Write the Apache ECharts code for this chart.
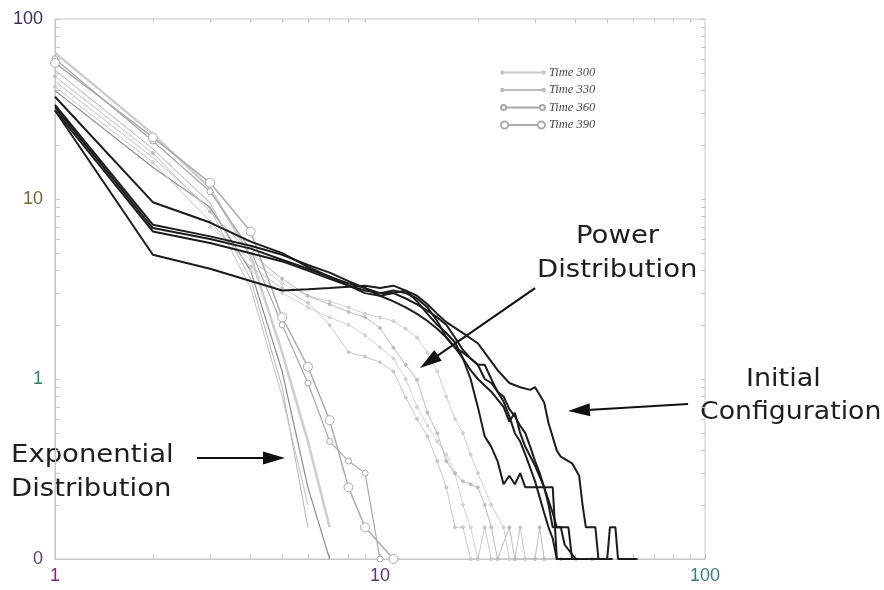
<!DOCTYPE html>
<html>
<head>
<meta charset="utf-8">
<script src="https://cdn.jsdelivr.net/npm/echarts@6/dist/echarts.min.js"></script>
<style>html,body{margin:0;padding:0;background:#fff}#c{width:884px;height:590px}</style>
</head>
<body>
<div id="c"></div>
<script>
// ---- data ----
const blackA = [[1,37],[2,9.6],[3,7.4],[4,5.8],[5,5.0],[6,4.2],[7,3.7],[8,3.3],[9,3.0],[10,2.9],[11,3.0],[12,3.1],[13,2.9],[14,2.6],[15,2.3],[16,2.07],[18,1.8],[20,1.58],[21,1.4],[23,1.12],[25,0.95],[27,0.9],[29,0.87],[30,0.9],[32,0.74],[33,0.57],[35,0.4],[36,0.37],[39,0.34],[41,0.29],[42,0.2],[43,0.15],[46,0.15],[47,0.1],[50,0.1],[51,0.15],[53,0.15],[54,0.1],[62,0.1]];
const blackB = [[1,31],[2,4.9],[3,4.1],[4,3.5],[5,3.1],[6,3.15],[7,3.2],[8,3.25],[9,3.3],[10,3.2],[11,3.3],[12,3.1],[13,2.7],[14,2.3],[15,2.0],[16,1.8],[17,1.6],[18,1.3],[19,1.0],[20,0.7],[21,0.48],[22,0.42],[23,0.35],[24,0.26],[25,0.29],[26,0.26],[27,0.3],[28,0.25],[34,0.25],[35,0.1],[44,0.1]];
const blackC = [[1,33.3],[2,7.2],[3,6.2],[4,5.5],[5,4.9],[6,4.3],[7,3.9],[8,3.5],[9,3.2],[10,2.9],[11,2.7],[12,2.5],[13,2.3],[14,2.1],[15,1.9],[16,1.7],[17,1.5],[18,1.3],[19,1.12],[20,1.0],[22,0.85],[24,0.7],[25,0.58],[26,0.65],[27,0.5],[28,0.42],[30,0.33],[32,0.25],[34,0.18],[35,0.15],[38,0.15],[39,0.1],[46,0.1]];
const blackD = [[1,32.4],[2,6.9],[3,6.0],[4,5.3],[5,4.6],[6,4.1],[7,3.7],[8,3.4],[9,3.2],[10,3.0],[11,3.0],[12,2.8],[13,2.6],[14,2.4],[15,2.2],[16,2.0],[17,1.7],[18,1.45],[19,1.3],[20,1.2],[21,1.2],[22,1.0],[23,0.85],[24,0.8],[25,0.68],[26,0.62],[27,0.55],[28,0.5],[29,0.42],[30,0.35],[31,0.3],[32,0.25],[33,0.2],[34,0.15],[36,0.15],[37,0.12],[40,0.1],[52,0.1]];
const blackE = [[1,31.2],[2,6.6],[3,5.7],[4,5.0],[5,4.5],[6,4.0],[7,3.6],[8,3.3],[9,3.1],[10,3.0],[11,3.1],[12,3.0],[13,2.8],[14,2.5],[15,2.1],[16,1.7],[17,1.5],[18,1.4],[19,1.3],[20,1.2],[21,1.0],[22,0.95],[23,0.85],[24,0.75],[25,0.62],[26,0.5],[27,0.45],[28,0.38],[29,0.32],[30,0.27],[31,0.22],[32,0.18],[33,0.15],[34,0.13],[35,0.1],[44,0.1]];

const time300 = [[1,42],[2,16],[3,7.5],[4,4.2],[5,3.2],[6,2.65],[7,1.99],[8,1.41],[9,1.33],[10,1.24],[11,1.1],[12,0.79],[13,0.6],[14,0.48],[15,0.35],[16,0.25],[17,0.15],[18,0.15],[19,0.1],[20,0.1],[21,0.15],[22,0.1],[26,0.1],[27,0.15],[28,0.1],[36,0.1]];
const time330 = [[1,48],[2,18],[3,8.5],[4,5.0],[5,3.6],[6,2.9],[7,2.6],[8,2.36],[9,2.2],[10,1.92],[11,1.49],[12,1.2],[13,0.99],[14,0.65],[15,0.5],[16,0.35],[17,0.3],[18,0.27],[19,0.26],[20,0.25],[21,0.2],[22,0.15],[23,0.1],[25,0.15],[26,0.1],[30,0.1],[31,0.15],[32,0.1],[45,0.1]];
const time360 = [[1,60],[2,21],[3,11],[4,5.2],[5,2.0],[6,0.95],[7,0.45],[8,0.35],[9,0.3],[10,0.1]];
const time390 = [[1,57],[2,22],[3,12.3],[4,6.6],[5,2.2],[6,1.17],[7,0.59],[8,0.25],[9,0.15],[11,0.1]];

const powerQ1 = [[3,7],[4,4.6],[5,3.4],[6,2.9],[7,2.7],[8,2.5],[9,2.3],[10,2.2],[11,2.1],[12,1.9],[13,1.7],[14,1.4],[15,1.1],[16,0.8],[17,0.6],[18,0.5],[19,0.38],[20,0.3],[22,0.2],[24,0.15],[25,0.1],[40,0.1]];
const powerQ2 = [[4,4.0],[5,3.0],[6,2.5],[7,2.2],[8,2.0],[9,1.75],[10,1.5],[11,1.3],[12,1.0],[13,0.7],[14,0.55],[15,0.45],[16,0.38],[17,0.3],[18,0.2],[19,0.15],[20,0.1]];

const expoG1 = [[1,40],[2,15],[3,9],[4,4.0],[5,1.1],[6,0.25],[7,0.1]];
const expoG2 = [[1,52],[2,19],[3,9.5],[4,3.6],[5,0.9],[6,0.15]];
const expoG3 = [[1,45],[2,17],[3,8.8],[4,3.2],[5,0.8],[6,0.2]];
const expoG4 = [[1,65],[2,23],[3,11.5],[4,4.8],[5,1.4],[6,0.45],[7,0.15]];

const legendNames = ['Time 300','Time 330','Time 360','Time 390'];
const xMinorTicks = [2,3,4,5,6,7,8,9,20,30,40,50,60,70,80,90];
const yMinorTicks = [0.2,0.3,0.4,0.5,0.6,0.7,0.8,0.9,2,3,4,5,6,7,8,9,20,30,40,50,60,70,80,90];
const xMajorTicks = [1,10,100];
const yMajorTicks = [0.1,1,10,100];

// annotation arrows (data coordinates): [start, end]
const arrowExpo = [[2.735,0.364],[4.72,0.364]];
const arrowPower = [[30.0,3.2],[14.15,1.248]];
const arrowInit = [[88.7,0.726],[40.95,0.669]];

// ---- chart ----
const chart = echarts.init(document.getElementById('c'), null, {renderer:'canvas'});

function blackSeries(name, d){
  return {name, type:'line', data:d, symbol:'none', z:6,
    lineStyle:{color:'#1c1c1c', width:2}, emphasis:{disabled:true}};
}
function graySeries(name, d, color, width, symbol, size, filled){
  return {name, type:'line', data:d, symbol: symbol||'none', symbolSize: size||0,
    showSymbol: !!symbol, z:3,
    itemStyle:{color: filled ? color : '#fff', borderColor:color, borderWidth:1},
    lineStyle:{color, width}, emphasis:{disabled:true}};
}
function arrowLine(a){
  return [{coord:a[0], symbol:'none'},{coord:a[1], symbol:'triangle', symbolSize:[13,22]}];
}
// legend icon: short line with a marker at both ends
function legendIcon(r){
  const W = 44, d = 2*r;
  return 'path://M0,0a'+r+','+r+' 0 1,0 '+d+',0a'+r+','+r+' 0 1,0 -'+d+',0' +
         'M'+d+',0L'+(W-d)+',0' +
         'M'+(W-d)+',0a'+r+','+r+' 0 1,0 '+d+',0a'+r+','+r+' 0 1,0 -'+d+',0';
}

const axisLineStyle = {color:'#c6c6c6', width:1};
const lf = 'Liberation Sans';
const yRich = {
  a:{color:'#3b2f5e', fontSize:18, fontFamily:lf},
  b:{color:'#6e6634', fontSize:18, fontFamily:lf},
  c:{color:'#2f7a6a', fontSize:18, fontFamily:lf},
  d:{color:'#5a4470', fontSize:18, fontFamily:lf}
};
const xRich = {
  a:{color:'#7a2a66', fontSize:18, fontFamily:lf},
  b:{color:'#5a3a70', fontSize:18, fontFamily:lf},
  c:{color:'#3a7a78', fontSize:18, fontFamily:lf}
};
const iconR = [1.3, 1.3, 2.6, 3.6];

const textStyle = (t, x, y, sx) => ({type:'text', x, y, scaleX:sx,
  style:{text:t, font:'25px "DejaVu Sans"', fill:'#1e1e1e', textAlign:'left', textVerticalAlign:'middle'}});

const option = {
  animation:false,
  backgroundColor:'#fff',
  grid:{left:55, top:19, width:650, height:540, show:true, borderColor:'#c6c6c6', borderWidth:1},
  legend:{
    data: legendNames.map((n,i) => ({name:n, icon:legendIcon(iconR[i])})),
    orient:'vertical', left:500, top:66, padding:0, itemWidth:44, itemHeight:9, itemGap:4.5,
    textStyle:{fontFamily:'Liberation Serif', fontStyle:'italic', fontSize:12.5, color:'#4a4a4a', padding:[0,0,0,-1]},
    selectedMode:false
  },
  xAxis:[{
    type:'log', logBase:10, min:1, max:100, position:'bottom',
    axisLine:{show:true, lineStyle:axisLineStyle},
    axisTick:{show:true, inside:true, length:5, lineStyle:axisLineStyle, customValues: xMajorTicks.concat(xMinorTicks)},
    axisLabel:{margin:8, customValues:xMajorTicks, rich:xRich,
      formatter:v => v < 5 ? '{a|1}' : (v < 50 ? '{b|10}' : '{c|100}')},
    splitLine:{show:false}
  },{
    type:'log', logBase:10, min:1, max:100, position:'top',
    axisLine:{show:false},
    axisTick:{show:true, inside:true, length:4, lineStyle:axisLineStyle, customValues: xMinorTicks},
    axisLabel:{show:false}, splitLine:{show:false}
  }],
  yAxis:[{
    type:'log', logBase:10, min:0.1, max:100, position:'left',
    axisLine:{show:true, lineStyle:axisLineStyle},
    axisTick:{show:true, inside:true, length:5, lineStyle:axisLineStyle, customValues: yMajorTicks.concat(yMinorTicks)},
    axisLabel:{margin:12, customValues:yMajorTicks, rich:yRich,
      formatter:v => v < 0.5 ? '{d|0}' : (v < 5 ? '{c|1}' : (v < 50 ? '{b|10}' : '{a|100}'))},
    splitLine:{show:false}
  },{
    type:'log', logBase:10, min:0.1, max:100, position:'right',
    axisLine:{show:false},
    axisTick:{show:true, inside:true, length:4, lineStyle:axisLineStyle, customValues: yMajorTicks.concat(yMinorTicks)},
    axisLabel:{show:false}, splitLine:{show:false}
  }],
  series:[
    graySeries('e1', expoG1, '#8c8c8c', 1.2),
    graySeries('e2', expoG2, '#b4b4b4', 1),
    graySeries('e3', expoG3, '#c2c2c2', 1),
    graySeries('e4', expoG4, '#cdcdcd', 2.5),
    graySeries('q1', powerQ1, '#d0d0d0', 1, 'circle', 3, true),
    graySeries('q2', powerQ2, '#d4d4d4', 1, 'circle', 3, true),
    graySeries('Time 300', time300, '#c8c8c8', 1, 'circle', 3, true),
    graySeries('Time 330', time330, '#bcbcbc', 1, 'circle', 3, true),
    graySeries('Time 360', time360, '#a8a8a8', 1.2, 'circle', 6),
    graySeries('Time 390', time390, '#acacac', 1.5, 'circle', 9),
    blackSeries('b1', blackA),
    blackSeries('b2', blackB),
    blackSeries('b3', blackC),
    blackSeries('b4', blackD),
    Object.assign(blackSeries('b5', blackE), {
      markLine:{
        silent:true, animation:false, symbol:['none','triangle'],
        label:{show:false},
        lineStyle:{color:'#111', width:2, type:'solid'},
        itemStyle:{color:'#111'},
        emphasis:{disabled:true},
        data:[arrowLine(arrowExpo), arrowLine(arrowPower), arrowLine(arrowInit)]
      }
    })
  ],
  graphic:[
    textStyle('Exponential', 11, 455, 1.1),
    textStyle('Distribution', 11, 489, 1.1),
    textStyle('Power', 576, 236, 1.1),
    textStyle('Distribution', 537, 270, 1.1),
    textStyle('Initial', 746, 379, 1.08),
    textStyle('Configuration', 700, 412, 1.07)
  ]
};
chart.setOption(option);
</script>
</body>
</html>
